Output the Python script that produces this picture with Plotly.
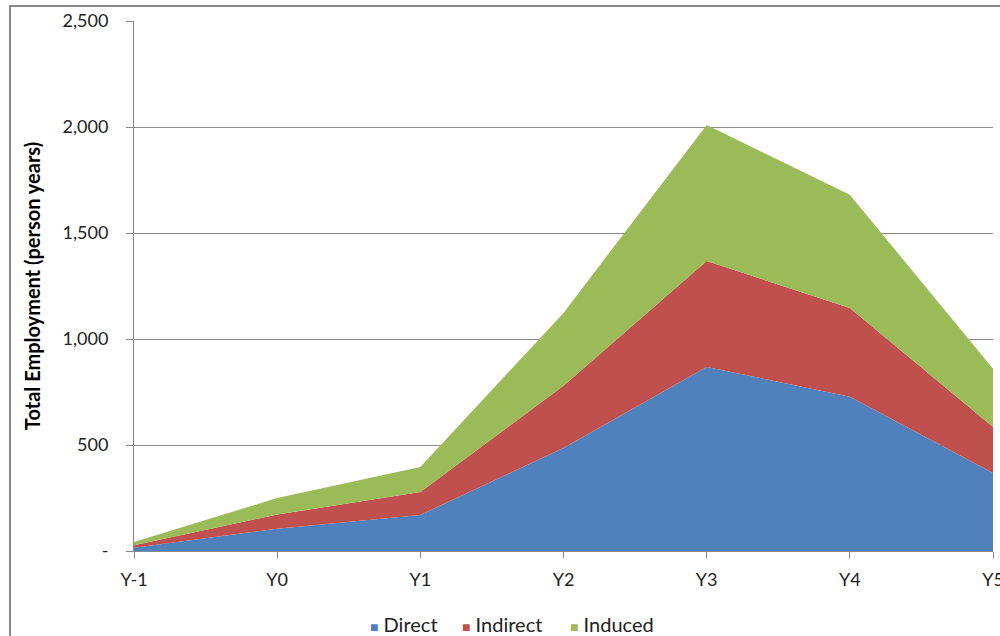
import plotly.graph_objects as go

# Years of the project timeline
years = ["Y-1", "Y0", "Y1", "Y2", "Y3", "Y4", "Y5"]

# Employment by effect type (person years)
direct = [15, 105, 170, 486, 868, 728, 368]
indirect = [12, 67, 108, 294, 500, 418, 217]
induced = [15, 78, 118, 343, 642, 534, 275]

# Y axis ticks (zero shown as a dash, accounting style)
y_ticks = [0, 500, 1000, 1500, 2000, 2500]
y_tick_text = ["-", "500", "1,000", "1,500", "2,000", "2,500"]

series = [
    ("Direct", direct, "#4F81BD"),
    ("Indirect", indirect, "#C0504D"),
    ("Induced", induced, "#9BBB59"),
]

font_family = "Lato, 'Open Sans', sans-serif"

# Plot area geometry in pixels
W, H = 1000, 636
L, R, T, B = 134, 7, 21, 85
pw, ph = W - L - R, H - T - B


def px_x(x):
    return (x - L) / pw


def px_y(y):
    return (H - B - y) / ph


fig = go.Figure()
for name, values, color in series:
    fig.add_trace(go.Scatter(
        x=list(range(len(years))),
        y=values,
        name=name,
        mode="lines",
        stackgroup="emp",
        line=dict(width=0, color=color),
        fillcolor=color,
        showlegend=False,
        hoverinfo="x+y+name",
    ))

# Legend entries drawn as text with coloured square swatches
legend_left = [370, 462, 570]
annotations = []
for (name, _, color), lx in zip(series, legend_left):
    annotations.append(dict(
        xref="paper", yref="paper",
        x=px_x(lx - 2), y=px_y(624),
        xanchor="left", yanchor="middle",
        showarrow=False,
        text=f"<span style='color:{color};font-size:14px'>■</span> {name}",
        font=dict(family=font_family, size=20, color="#222"),
    ))

fig.update_layout(
    width=W,
    height=H,
    paper_bgcolor="white",
    plot_bgcolor="white",
    margin=dict(l=L, r=R, t=T, b=B),
    font=dict(family=font_family, size=18, color="#222"),
    showlegend=False,
    annotations=annotations,
    xaxis=dict(
        range=[0, len(years) - 1],
        tickvals=list(range(len(years))),
        ticktext=years,
        showgrid=False,
        zeroline=False,
        showline=True,
        linecolor="#888",
        linewidth=1,
        ticks="outside",
        ticklen=6,
        tickcolor="#888",
        tickfont=dict(size=18, color="#222"),
        ticklabelstandoff=6,
        ticklabeloverflow="allow",
        automargin=False,
    ),
    yaxis=dict(
        range=[0, 2500],
        tickvals=y_ticks,
        ticktext=y_tick_text,
        showgrid=True,
        gridcolor="#8c8c8c",
        gridwidth=1,
        zeroline=False,
        showline=True,
        linecolor="#888",
        linewidth=1,
        ticks="outside",
        ticklen=7,
        tickcolor="#888",
        tickfont=dict(size=18, color="#222"),
        ticklabelstandoff=14,
        automargin=False,
        title=dict(
            text="<b>Total Employment (person years)</b>",
            font=dict(size=20, color="#000"),
            standoff=16,
        ),
    ),
    shapes=[
        # Outer chart border
        dict(
            type="rect", xref="paper", yref="paper",
            x0=px_x(10), x1=1.2,
            y0=-0.3, y1=px_y(6),
            line=dict(color="#888", width=2),
            fillcolor="rgba(0,0,0,0)",
            layer="below",
        ),
    ],
)

fig.write_html("out.html")
